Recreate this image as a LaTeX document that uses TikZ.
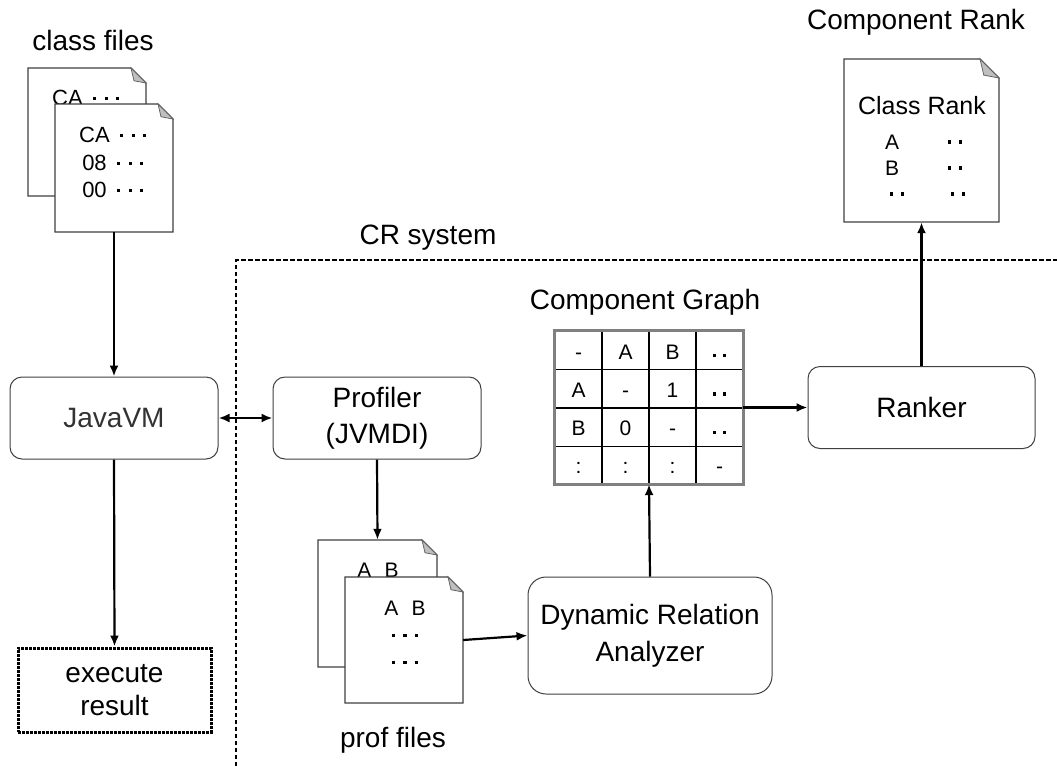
\documentclass[tikz,border=0pt]{standalone}
\usepackage{fontspec}
\setmainfont{Liberation Sans}
\usetikzlibrary{arrows.meta}
\newcommand{\sqd}[1]{\makebox[0pt]{\rule[#1]{3.3pt}{3.3pt}}}
\newcommand{\threedots}{\kern12pt\sqd{5.9pt}\kern11.5pt\sqd{5.9pt}\kern11.5pt\sqd{5.9pt}\kern2pt}
\newcommand{\threedotsc}{\kern2pt\sqd{5.9pt}\kern11.5pt\sqd{5.9pt}\kern11.5pt\sqd{5.9pt}\kern2pt}
\newcommand{\twodots}{\kern2pt\sqd{6pt}\kern10.5pt\sqd{6pt}\kern2pt}
\newcommand{\twodotst}{\kern2pt\sqd{1.6pt}\kern10pt\sqd{1.6pt}\kern2pt}
% name, x0, y0, x1, y1, fold
\newcommand{\docpage}[6]{%
  \filldraw[docline] (#2,#3) -- ({#4-#6},#3) -- (#4,{#3+#6}) -- (#4,#5) -- (#2,#5) -- cycle;
  \filldraw[docfold] ({#4-#6},#3) -- ({#4-0.8*#6},{#3+0.85*#6}) -- (#4,{#3+#6}) -- cycle;
  \node[docnode, minimum width={(#4-#2)*1pt}, minimum height={(#5-#3)*1pt}] (#1) at ({(#2+#4)/2},{(#3+#5)/2}) {};
}
\tikzset{
  big/.style={font=\fontsize{28}{36}\selectfont},
  lbl/.style={big, inner sep=0pt},
  rbox/.style={draw=black!75, line width=1pt, rounded corners=12pt, fill=white, align=center, big, inner sep=0pt},
  dotbox/.style={draw=black, line width=3pt, dash pattern=on 2.6pt off 1.4pt, align=center, font=\fontsize{28}{33}\selectfont, inner sep=0pt},
  docline/.style={draw=black!75, line width=1.1pt, fill=white},
  docfold/.style={draw=black!60, line width=0.8pt, fill=black!25},
  docnode/.style={draw=none, inner sep=0pt},
  dtxt/.style={inner sep=0pt, font=\fontsize{22}{26}\selectfont, text height=15.7pt, text depth=0pt},
  stxt/.style={inner sep=0pt, font=\fontsize{21}{25}\selectfont, text height=15pt, text depth=0pt},
  ctxt/.style={inner sep=0pt, font=\fontsize{21}{25}\selectfont, text height=15pt, text depth=0pt},
  arr/.style={draw=black, line width=2.2pt, -{Latex[length=11pt,width=9pt]}},
  darr/.style={draw=black, line width=2.2pt, {Latex[length=11pt,width=9pt]}-{Latex[length=11pt,width=9pt]}},
  sysline/.style={draw=black, line width=1.5pt, dash pattern=on 4.5pt off 2.5pt},
  grid/.style={draw=black, line width=1.1pt},
  gridborder/.style={draw=black!50, line width=3pt},
}
\begin{document}
\begin{tikzpicture}[x=1pt,y=-1pt]
\useasboundingbox (0,0) rectangle (1057,766);

% CR system boundary
\draw[sysline] (236,766) -- (236,260) -- (1057,260);
\node[lbl] (crsys) at (428,238) {CR system};

% class files
\node[lbl] (cflbl) at (93,40) {class files};
\docpage{cf1}{28}{68}{146}{196}{15}
\node[dtxt] (cf1t) at (86,98) {CA\threedots};
\docpage{cf2}{55}{104}{173}{232}{15}
\node[dtxt] (cf2a) at (113,135) {CA\threedots};
\node[dtxt] (cf2b) at (113,163) {08\threedots};
\node[dtxt] (cf2c) at (113,190) {00\threedots};

% JavaVM, execute result
\node[rbox, minimum width=208pt, minimum height=82pt, text=black!80] (jvm) at (114,418) {JavaVM};
\node[dotbox, minimum width=193pt, minimum height=84pt] (exe) at (114.5,690) {execute\\result};

% Profiler
\node[rbox, minimum width=208pt, minimum height=82pt] (prof) at (377,418) {Profiler\\(JVMDI)};

% prof files
\docpage{pf1}{318}{540}{437}{667}{15}
\node[stxt] (pf1t) at (378,570) {A\hspace{13pt}B};
\docpage{pf2}{345}{577}{463}{703}{15}
\node[stxt] (pf2a) at (405,608) {A\hspace{13pt}B};
\node[dtxt] (pf2b) at (405,635) {\threedotsc};
\node[dtxt] (pf2c) at (405,662) {\threedotsc};
\node[lbl] (pflbl) at (393,740) {prof files};

% Dynamic Relation Analyzer
\node[rbox, rounded corners=18pt, minimum width=244pt, minimum height=117pt, font=\fontsize{28}{37}\selectfont] (dra) at (650,635.5) {Dynamic Relation\\Analyzer};

% Component Graph table
\node[lbl] (cglbl) at (645,302) {Component Graph};
\node[draw=none, inner sep=0pt, minimum width=188pt, minimum height=153pt, fill=white] (cg) at (649,407.5) {};
\foreach \xx in {602,649,696} \draw[grid] (\xx,331) -- (\xx,484);
\foreach \yy in {369.5,408,446.5} \draw[grid] (555,\yy) -- (743,\yy);
\draw[gridborder] (cg.north west) rectangle (cg.south east);
\foreach \txt [count=\i from 0] in {-,A,B,\twodotst,A,-,1,\twodotst,B,0,-,\twodotst,:,:,:,-}{
  \pgfmathtruncatemacro{\col}{mod(\i,4)}
  \pgfmathtruncatemacro{\row}{div(\i,4)}
  \node[ctxt] (cell\i) at ({578.5+47*\col},{351.5+38.25*\row}) {\txt};
}

% Ranker
\node[rbox, minimum width=227pt, minimum height=82pt] (rank) at (921.5,407.5) {Ranker};

% Component Rank
\node[lbl] (crlbl) at (916,22) {Component Rank};
\docpage{crd}{844}{59}{999}{222}{19}
\node[inner sep=0pt, font=\fontsize{25}{30}\selectfont] (crt) at (922,106) {Class Rank};
\node[stxt] (cra) at (892,142) {A};
\node[stxt] (crad) at (955,142) {\twodots};
\node[stxt] (crb) at (892,168) {B};
\node[stxt] (crbd) at (955,168) {\twodots};
\node[stxt] (crc) at (897,194) {\twodots};
\node[stxt] (crcd) at (958,194) {\twodots};

% connectors
\draw[arr] (cf2.south) -- (jvm.north);
\draw[arr] (jvm.south) -- (exe.north);
\draw[darr] (jvm.east) -- (prof.west);
\draw[arr] (prof.south) -- (pf1.north);
\draw[arr] (pf2.east) -- (dra.west);
\draw[arr] (dra.north) -- (cg.south);
\draw[arr] (cg.east) -- (rank.west);
\draw[arr] (rank.north) -- (crd.south);
\end{tikzpicture}
\end{document}
